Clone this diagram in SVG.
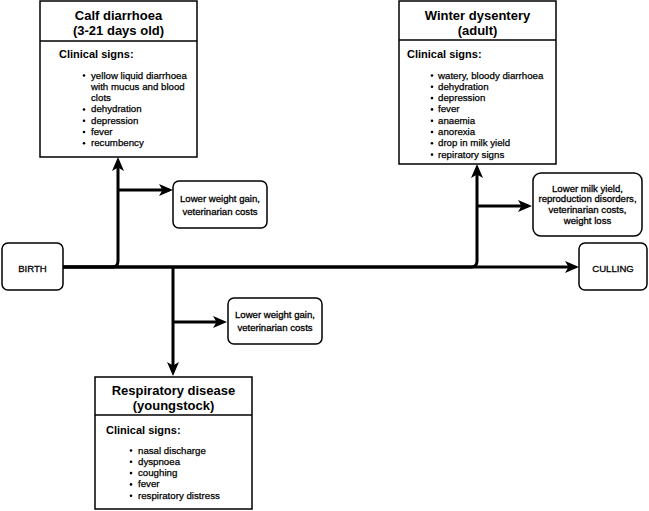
<svg xmlns="http://www.w3.org/2000/svg" width="649" height="511" viewBox="0 0 649 511">
<defs>
<marker id="arr" markerUnits="userSpaceOnUse" markerWidth="16" markerHeight="14" refX="10" refY="6" orient="auto">
<path d="M0,0 L14,6 L0,12 L3.5,6 Z" fill="#000"/>
</marker>
</defs>
<style>
.box{fill:#fff;stroke:#000;stroke-width:1.5}
.edge{fill:none;stroke:#000;stroke-width:3;marker-end:url(#arr)}
text{font-family:"Liberation Sans",Arial,sans-serif;fill:#000}
.title{font-size:13px;font-weight:bold;text-anchor:middle}
.sub{font-size:11px;font-weight:bold}
.item{font-size:9.7px;stroke:#000;stroke-width:0.25}
.lbl{font-size:9.6px;text-anchor:middle;stroke:#000;stroke-width:0.3}
.dot{fill:#000}
.div{stroke:#000;stroke-width:1.5}
</style>
<rect width="649" height="511" fill="#fff"/>

<g id="connectors">
<path class="edge" d="M63,267 H575"/>
<path class="edge" d="M63,267 H112 Q118,267 118,261 V161"/>
<path class="edge" d="M118,190 H169"/>
<path class="edge" d="M173,267 V372"/>
<path class="edge" d="M173,322 H223"/>
<path class="edge" d="M63,267 H471 Q477,267 477,261 V168"/>
<path class="edge" d="M477,206 H528"/>
</g>

<g id="birth">
<rect class="box" x="2" y="243" width="61" height="47" rx="6"/>
<text class="lbl" x="32.5" y="271.5">BIRTH</text>
</g>

<g id="culling">
<rect class="box" x="579" y="243" width="68" height="47" rx="6"/>
<text class="lbl" x="613" y="271.5">CULLING</text>
</g>

<g id="calf-diarrhoea">
<rect class="box" x="40" y="1" width="157" height="156"/>
<line class="div" x1="40" y1="41" x2="197" y2="41"/>
<text class="title" x="118.5" y="19.5">Calf diarrhoea</text>
<text class="title" x="118.5" y="34.5">(3-21 days old)</text>
<text class="sub" x="59" y="58">Clinical signs:</text>
<circle class="dot" cx="84" cy="75.5" r="1.3"/>
<circle class="dot" cx="84" cy="109.5" r="1.3"/>
<circle class="dot" cx="84" cy="120.8" r="1.3"/>
<circle class="dot" cx="84" cy="132" r="1.3"/>
<circle class="dot" cx="84" cy="143.3" r="1.3"/>
<text class="item" x="91" y="78.5">yellow liquid diarrhoea</text>
<text class="item" x="91" y="89.8">with mucus and blood</text>
<text class="item" x="91" y="101.1">clots</text>
<text class="item" x="91" y="112.4">dehydration</text>
<text class="item" x="91" y="123.7">depression</text>
<text class="item" x="91" y="135">fever</text>
<text class="item" x="91" y="146.3">recumbency</text>
</g>

<g id="calf-costs">
<rect class="box" x="173" y="181" width="94" height="47" rx="6"/>
<text class="lbl" x="220" y="201.5">Lower weight gain,</text>
<text class="lbl" x="220" y="214.5">veterinarian costs</text>
</g>

<g id="winter-dysentery">
<rect class="box" x="399" y="1" width="157" height="163"/>
<line class="div" x1="399" y1="40" x2="556" y2="40"/>
<text class="title" x="477.5" y="19.5">Winter dysentery</text>
<text class="title" x="477.5" y="34.5">(adult)</text>
<text class="sub" x="407" y="58">Clinical signs:</text>
<circle class="dot" cx="432" cy="75.5" r="1.3"/>
<circle class="dot" cx="432" cy="86.8" r="1.3"/>
<circle class="dot" cx="432" cy="98.1" r="1.3"/>
<circle class="dot" cx="432" cy="109.4" r="1.3"/>
<circle class="dot" cx="432" cy="120.7" r="1.3"/>
<circle class="dot" cx="432" cy="132" r="1.3"/>
<circle class="dot" cx="432" cy="143.3" r="1.3"/>
<circle class="dot" cx="432" cy="154.6" r="1.3"/>
<text class="item" x="438" y="78.5">watery, bloody diarrhoea</text>
<text class="item" x="438" y="89.8">dehydration</text>
<text class="item" x="438" y="101.1">depression</text>
<text class="item" x="438" y="112.4">fever</text>
<text class="item" x="438" y="123.7">anaemia</text>
<text class="item" x="438" y="135">anorexia</text>
<text class="item" x="438" y="146.3">drop in milk yield</text>
<text class="item" x="438" y="157.6">repiratory signs</text>
</g>

<g id="winter-costs">
<rect class="box" x="533" y="173" width="109" height="63" rx="8"/>
<text class="lbl" x="587.5" y="191.5">Lower milk yield,</text>
<text class="lbl" x="587.5" y="202.2">reproduction disorders,</text>
<text class="lbl" x="587.5" y="212.9">veterinarian costs,</text>
<text class="lbl" x="587.5" y="223.6">weight loss</text>
</g>

<g id="resp-costs">
<rect class="box" x="228" y="298" width="94" height="46" rx="6"/>
<text class="lbl" x="275" y="318">Lower weight gain,</text>
<text class="lbl" x="275" y="331">veterinarian costs</text>
</g>

<g id="respiratory-disease">
<rect class="box" x="95" y="377" width="157" height="132"/>
<line class="div" x1="95" y1="415" x2="252" y2="415"/>
<text class="title" x="173.5" y="394.5">Respiratory disease</text>
<text class="title" x="173.5" y="409.5">(youngstock)</text>
<text class="sub" x="106" y="434">Clinical signs:</text>
<circle class="dot" cx="131" cy="450.5" r="1.3"/>
<circle class="dot" cx="131" cy="461.8" r="1.3"/>
<circle class="dot" cx="131" cy="473.1" r="1.3"/>
<circle class="dot" cx="131" cy="484.4" r="1.3"/>
<circle class="dot" cx="131" cy="495.7" r="1.3"/>
<text class="item" x="138" y="453.5">nasal discharge</text>
<text class="item" x="138" y="464.8">dyspnoea</text>
<text class="item" x="138" y="476.1">coughing</text>
<text class="item" x="138" y="487.4">fever</text>
<text class="item" x="138" y="498.7">respiratory distress</text>
</g>
</svg>
